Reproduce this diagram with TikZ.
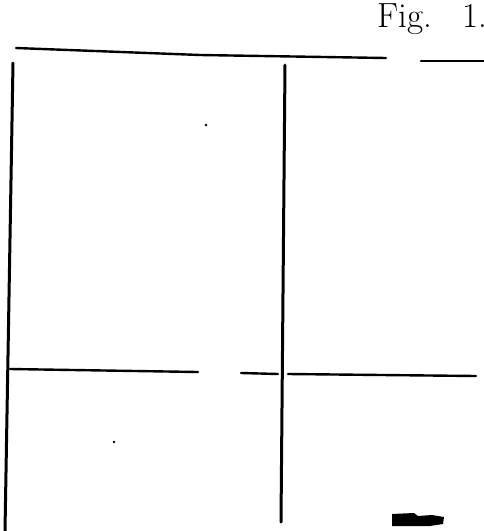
\documentclass[tikz,border=0pt]{standalone}
\usetikzlibrary{positioning}
\begin{document}
\begin{tikzpicture}
[x=1pt, y=-1pt,
rule/.style={line width=3pt, line cap=round},
thinrule/.style={line width=2.4pt, line cap=round},
speck/.style={fill=black},
caption/.style={inner sep=0pt, font=\fontsize{35}{35}\selectfont},
]
\useasboundingbox (0,0) rectangle (484,531);

% title
\node[caption, anchor=base west] (title) at (377,27) {Fig.};
\node[caption, anchor=base west] (fignum) at ([xshift=30pt]title.base east) {1.};

% top rule, broken near the right
\coordinate (topA) at (16,48);
\coordinate (topB) at (200,55);
\coordinate (topC) at (386,58);
\coordinate (topD) at (421,61);
\coordinate (topE) at (484,61);
\draw[thinrule] (topA) -- (topB) -- (topC);
\draw[thinrule] (topD) -- (topE);

% upright rules
\coordinate (leftT) at (13,63);
\coordinate (leftB) at (5,531);
\coordinate (midT) at (285,65);
\coordinate (midB) at (281,522);
\draw[rule] (leftT) -- (leftB);
\draw[rule] (midT) -- (midB);

% lower rule in three pieces
\coordinate (lowA) at (10,369);
\coordinate (lowB) at (198,372);
\coordinate (lowC) at (241,373);
\coordinate (lowD) at (278,374);
\coordinate (lowE) at (288,374);
\coordinate (lowF) at (476,376);
\draw[thinrule] (lowA) -- (lowB);
\draw[thinrule] (lowC) -- (lowD);
\draw[thinrule] (lowE) -- (lowF);

% specks
\fill[speck] (206,125) circle (1.3);
\fill[speck] (114,442) circle (1.3);
\fill[speck] (392,514) -- (414,513) -- (418,516) -- (432,515) -- (444,517)
  -- (443,524) -- (430,526) -- (392,526) -- cycle;
\end{tikzpicture}
\end{document}
